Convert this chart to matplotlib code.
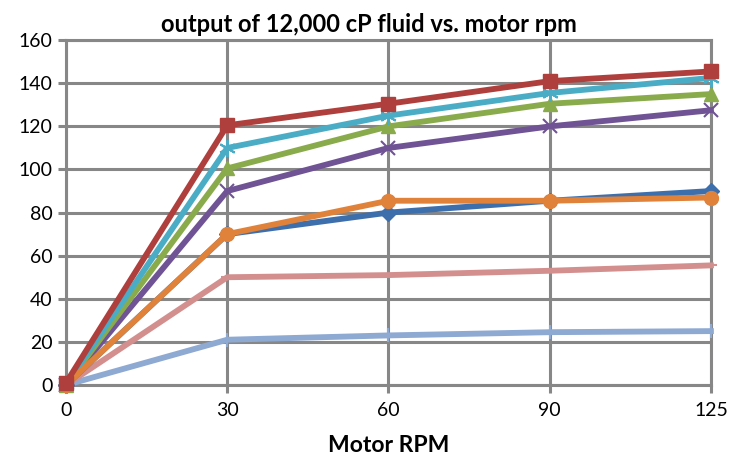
import numpy as np
import matplotlib.pyplot as plt

# Datos
rpm_labels = ['0', '30', '60', '90', '125']
s_blue = [0, 70, 80, 85.5, 90]
s_red = [1, 120.5, 130.5, 141, 145.5]
s_green = [0, 100.5, 120, 130.5, 135]
s_purple = [0, 90, 110, 120, 127.5]
s_aqua = [0, 110, 125, 135.5, 142.5]
s_orange = [0, 70, 85.5, 85.5, 87]
s_lightblue = [0, 21, 23, 24.5, 25]
s_pink = [0, 50, 51, 53, 55.5]

GRID = '#878787'

plt.rcParams['font.family'] = ['Lato', 'DejaVu Sans']

fig = plt.figure(figsize=(7.46, 4.62), dpi=100)
ax = fig.add_axes([0.0885, 0.1667, 0.8645, 0.7463])

x = np.arange(len(rpm_labels))
lw = 4.2

# orden de dibujo: las de abajo primero
ax.plot(x, s_lightblue, color='#8EA9D2', lw=lw, marker='|', ms=10, mew=1.5, clip_on=False, zorder=3)
ax.plot(x, s_pink, color='#D38F8E', lw=lw, marker='_', ms=8, mew=1.5, clip_on=False, zorder=3)
ax.plot(x, s_blue, color='#3E6FAD', lw=lw, marker='D', ms=8, clip_on=False, zorder=4)
ax.plot(x, s_orange, color='#E0823A', lw=lw, marker='o', ms=10, clip_on=False, zorder=5)
ax.plot(x, s_purple, color='#6F5394', lw=lw, marker='x', ms=10, mew=1.5, clip_on=False, zorder=4)
ax.plot(x, s_green, color='#8AAB4B', lw=lw, marker='^', ms=10, clip_on=False, zorder=4)
ax.plot(x, s_aqua, color='#4BACC6', lw=lw, marker=(6, 2, 0), ms=12, mew=1.5, clip_on=False, zorder=4)
ax.plot(x, s_red, color='#AE3F3C', lw=lw, marker='s', ms=10, clip_on=False, zorder=6)

ax.set_xlim(0, 4)
ax.set_ylim(0, 160)
ax.set_yticks(np.arange(0, 161, 20))
ax.set_xticks(x)
ax.set_xticklabels(rpm_labels)

ax.grid(True, color=GRID, lw=2.2)
ax.set_axisbelow(True)
for sp in ax.spines.values():
    sp.set_color(GRID)
    sp.set_linewidth(2.2)
ax.tick_params(axis='both', colors=GRID, length=6, width=2.2, labelcolor='black', labelsize=14)
ax.tick_params(axis='x', pad=6)

ax.set_title('output of 12,000 cP fluid vs. motor rpm', fontsize=17, fontweight='bold', pad=6, x=0.47)
ax.set_xlabel('Motor RPM', fontsize=16.5, fontweight='bold', labelpad=12)

fig.savefig('out.png', dpi=100)
